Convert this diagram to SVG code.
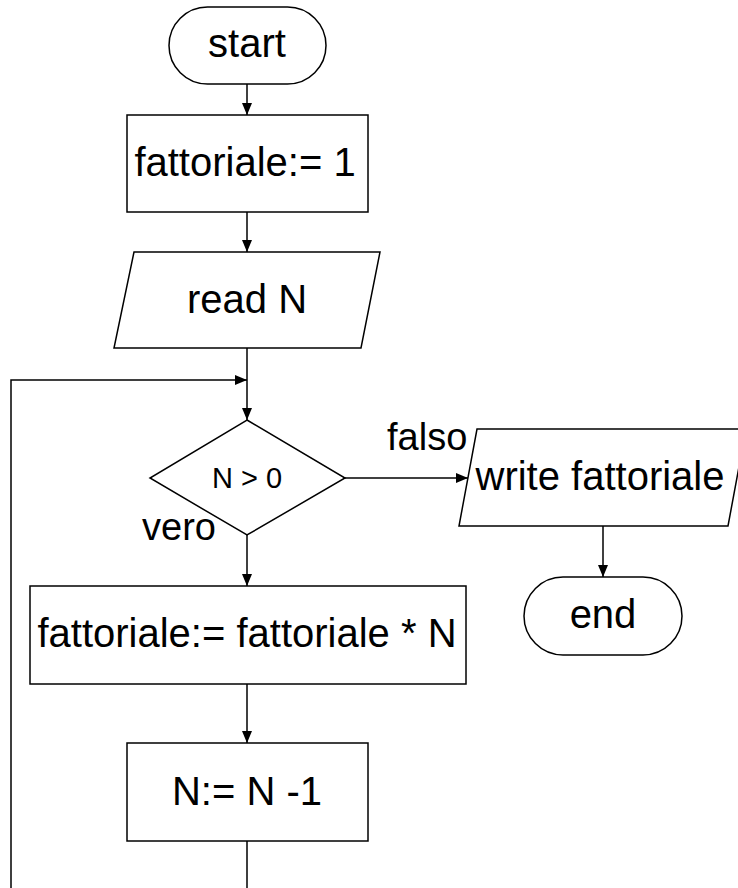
<svg xmlns="http://www.w3.org/2000/svg" width="738" height="888" viewBox="0 0 738 888">
  <defs>
    <marker id="arrow" viewBox="0 0 12 10" refX="12" refY="5" markerWidth="12" markerHeight="10" markerUnits="userSpaceOnUse" orient="auto">
      <path d="M0,0 L12,5 L0,10 Z" fill="#000"/>
    </marker>
    <style>
      .shape { fill: #fff; stroke: #000; stroke-width: 1.5; }
      .edge { fill: none; stroke: #000; stroke-width: 1.5; }
      .arrow { marker-end: url(#arrow); }
      text { font-family: "Liberation Sans", Arial, sans-serif; fill: #000; }
      .lbl { font-size: 40px; text-anchor: middle; }
      .cond { font-size: 29px; text-anchor: middle; }
      .branch { font-size: 38px; }
    </style>
  </defs>

  <rect width="738" height="888" fill="#fff"/>

  <!-- connectors -->
  <g id="connectors">
    <line class="edge arrow" x1="247" y1="84" x2="247" y2="115"/>
    <line class="edge arrow" x1="247" y1="212" x2="247" y2="252"/>
    <line class="edge arrow" x1="247" y1="348" x2="247" y2="420"/>
    <polyline class="edge arrow" points="247,841 247,900 11,900 11,380 247,380"/>
    <line class="edge arrow" x1="345" y1="478" x2="468" y2="478"/>
    <line class="edge arrow" x1="247" y1="535" x2="247" y2="586"/>
    <line class="edge arrow" x1="247" y1="684" x2="247" y2="743"/>
    <line class="edge arrow" x1="603" y1="526" x2="603" y2="577"/>
    <text class="branch" x="142" y="540">vero</text>
    <text class="branch" x="387" y="450">falso</text>
  </g>

  <g id="start">
    <rect class="shape" x="169" y="7" width="157" height="77" rx="38.5" ry="38.5"/>
    <text class="lbl" x="247" y="57">start</text>
  </g>

  <g id="init">
    <rect class="shape" x="127" y="115" width="241" height="97"/>
    <text class="lbl" x="245" y="176">fattoriale:= 1</text>
  </g>

  <g id="read">
    <polygon class="shape" points="134,252 380,252 361,348 114,348"/>
    <text class="lbl" x="247" y="313">read N</text>
  </g>

  <g id="test">
    <polygon class="shape" points="247,420 345,478 247,535 150,478"/>
    <text class="cond" x="247" y="488">N &gt; 0</text>
  </g>

  <g id="write">
    <polygon class="shape" points="477,429 746,429 728,526 459,526"/>
    <text class="lbl" x="600" y="490">write fattoriale</text>
  </g>

  <g id="end">
    <rect class="shape" x="524" y="577" width="158" height="78" rx="39" ry="39"/>
    <text class="lbl" x="603" y="628">end</text>
  </g>

  <g id="multiply">
    <rect class="shape" x="30" y="586" width="436" height="98"/>
    <text class="lbl" x="247" y="647">fattoriale:= fattoriale * N</text>
  </g>

  <g id="decrement">
    <rect class="shape" x="127" y="743" width="241" height="98"/>
    <text class="lbl" x="247" y="805">N:= N -1</text>
  </g>
</svg>
